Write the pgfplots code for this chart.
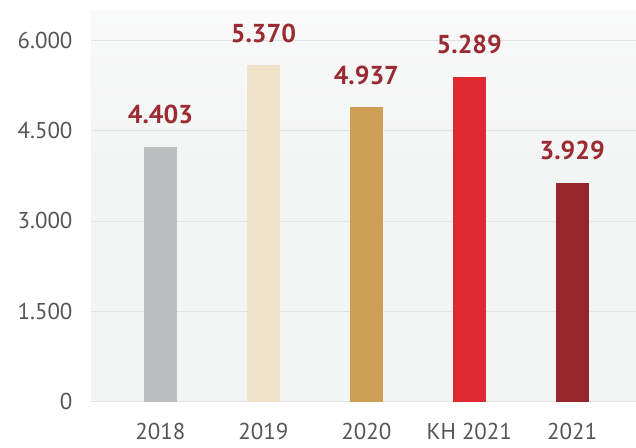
\documentclass[border=0pt]{standalone}
\usepackage{pgfplots}
\pgfplotsset{compat=1.18}
\usepackage{fontspec}
\setmainfont{PT Sans}
\definecolor{bgc}{HTML}{F3F4F4}
\definecolor{gridc}{HTML}{E3E3E3}
\definecolor{c1}{HTML}{BDBEC0}
\definecolor{c2}{HTML}{EFE2C8}
\definecolor{c3}{HTML}{CC9F55}
\definecolor{c4}{HTML}{DE2930}
\definecolor{c5}{HTML}{96262C}
\definecolor{lab}{HTML}{9B2B32}
\definecolor{tick}{HTML}{555555}
\pgfdeclareverticalshading{bgshade}{100bp}{color(0bp)=(bgc); color(55bp)=(bgc); color(100bp)=(white)}
\begin{document}
\begin{tikzpicture}
\begin{axis}[
  name=ax,
  scale only axis,
  width=545bp, height=389.6bp,
  xmin=-0.675, xmax=4.62,
  ymin=0, ymax=6470,
  axis line style={draw=none},
  axis background/.style={shading=bgshade},
  ytick={0,1500,3000,4500,6000},
  xtick={0,1,2,3,4},
  xticklabels={2018,2019,2020,KH 2021,2021},
  major tick length=0pt,
  ymajorgrids,
  grid style={gridc, line width=0.8pt},
  /pgf/number format/.cd, 1000 sep={.}, assume math mode=true,
  /pgfplots/.cd,
  yticklabel style={font=\fontsize{23}{23}\selectfont, text=tick, anchor=east, xshift=-15bp},
  xticklabel style={font=\fontsize{23}{23}\selectfont, text=tick, anchor=base, yshift=-38bp},
  ybar, bar width=33bp, bar shift=0pt,
  point meta=explicit symbolic,
  nodes near coords,
  nodes near coords style={font=\bfseries\fontsize{26}{26}\selectfont, text=lab, anchor=base, inner sep=0pt, yshift=23bp},
  clip=false,
]
\addplot[fill=c1, draw=none] coordinates {(0,4229) [4.403]};
\addplot[fill=c2, draw=none] coordinates {(1,5586) [5.370]};
\addplot[fill=c3, draw=none] coordinates {(2,4889) [4.937]};
\addplot[fill=c4, draw=none] coordinates {(3,5392) [5.289]};
\addplot[fill=c5, draw=none] coordinates {(4,3631) [3.929]};
\end{axis}
\pgfresetboundingbox
\path ([xshift=-91bp,yshift=-46.4bp]ax.south west) rectangle ([yshift=12bp]ax.north east);
\end{tikzpicture}
\end{document}
